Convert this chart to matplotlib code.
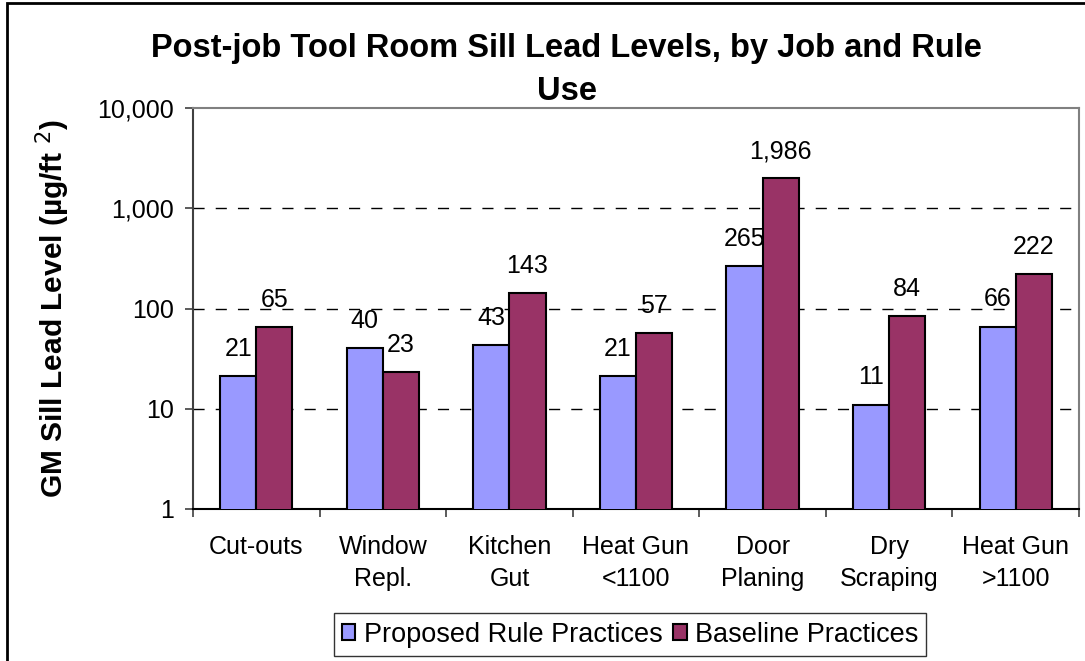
import matplotlib.pyplot as plt
from matplotlib.patches import Rectangle
from matplotlib.ticker import FixedLocator, FuncFormatter, NullLocator
import numpy as np

# data
jobs = ["Cut-outs", "Window\nRepl.", "Kitchen\nGut", "Heat Gun\n<1100",
        "Door\nPlaning", "Dry\nScraping", "Heat Gun\n>1100"]
proposed = [21, 40, 43, 21, 265, 11, 66]
baseline = [65, 23, 143, 57, 1986, 84, 222]
y_ticks = [1, 10, 100, 1000, 10000]

plt.rcParams['font.family'] = ['Liberation Sans', 'DejaVu Sans']

W, H = 1085, 661
fig = plt.figure(figsize=(W / 100, H / 100), dpi=100)

# plot area in pixel coords of the reference
x0, x1, ytop, ybot = 193, 1079, 108, 509
ax = fig.add_axes([x0 / W, (H - ybot) / H, (x1 - x0) / W, (ybot - ytop) / H])

x = np.arange(len(jobs))
bw = 0.285
b1 = ax.bar(x - bw / 2, proposed, bw, color='#9999FF', edgecolor='black',
            linewidth=1.5, label='Proposed Rule Practices', zorder=3)
b2 = ax.bar(x + bw / 2, baseline, bw, color='#993366', edgecolor='black',
            linewidth=1.5, label='Baseline Practices', zorder=3)

for bars, vals in ((b1, proposed), (b2, baseline)):
    for rect, v in zip(bars, vals):
        ax.annotate(f"{v:,}", (rect.get_x() + rect.get_width() / 2, v),
                    xytext=(0, 14.5), textcoords='offset points',
                    ha='center', va='baseline', fontsize=18, zorder=4)

ax.set_yscale('log')
ax.set_ylim(1, 10000)
ax.set_xlim(-0.5, len(jobs) - 0.5)
ax.yaxis.set_major_locator(FixedLocator(y_ticks))
ax.yaxis.set_minor_locator(NullLocator())
ax.yaxis.set_major_formatter(FuncFormatter(lambda v, p: f"{v:,.0f}"))
ax.tick_params(axis='y', labelsize=18, length=6, width=1.2, pad=8,
               direction='out', color='#404040')

# categories on ticks between groups
ax.set_xticks(x)
ax.set_xticklabels(jobs, fontsize=18, linespacing=1.4)
ax.tick_params(axis='x', length=0, pad=19)
ax.set_xticks(np.arange(len(jobs) + 1) - 0.5, minor=True)
ax.tick_params(axis='x', which='minor', length=6, width=1.2, color='#404040')

for yv in [10, 100, 1000]:
    ax.axhline(yv, color='black', lw=1, ls=(0, (8, 8)), zorder=1)

ax.spines['top'].set_color('#808080')
ax.spines['right'].set_color('#808080')
ax.spines['left'].set_color('#404040')
ax.spines['bottom'].set_color('black')
for s in ax.spines.values():
    s.set_linewidth(1.5)

ax.set_ylabel("GM Sill Lead Level (µg/ft $^{2}$)", fontsize=21.5,
              fontweight='bold')
ax.yaxis.set_label_coords(-(x0 - 72) / (x1 - x0), 0.5)

fig.text(566 / W, 1 - 57 / H,
         "Post-job Tool Room Sill Lead Levels, by Job and Rule",
         ha='center', va='baseline', fontsize=23.5, fontweight='bold')
fig.text(567 / W, 1 - 100 / H, "Use",
         ha='center', va='baseline', fontsize=23.5, fontweight='bold')

leg = fig.legend(handles=[b1, b2], loc='center',
                 bbox_to_anchor=(630 / W, (H - 634.5) / H), ncol=2,
                 fontsize=19.5, frameon=True, fancybox=False,
                 handlelength=0.5, handleheight=0.5, handletextpad=0.3,
                 columnspacing=0.4, borderpad=0.3, borderaxespad=0)
leg.get_frame().set_edgecolor('black')
leg.get_frame().set_linewidth(1)

# outer chart border, only top and left visible in the crop
fig.patches.append(Rectangle((7 / W, -0.1), 1.2, 1.1 - 3 / H,
                             transform=fig.transFigure, fill=False,
                             edgecolor='black', linewidth=2))

fig.savefig("out.png", dpi=100)
